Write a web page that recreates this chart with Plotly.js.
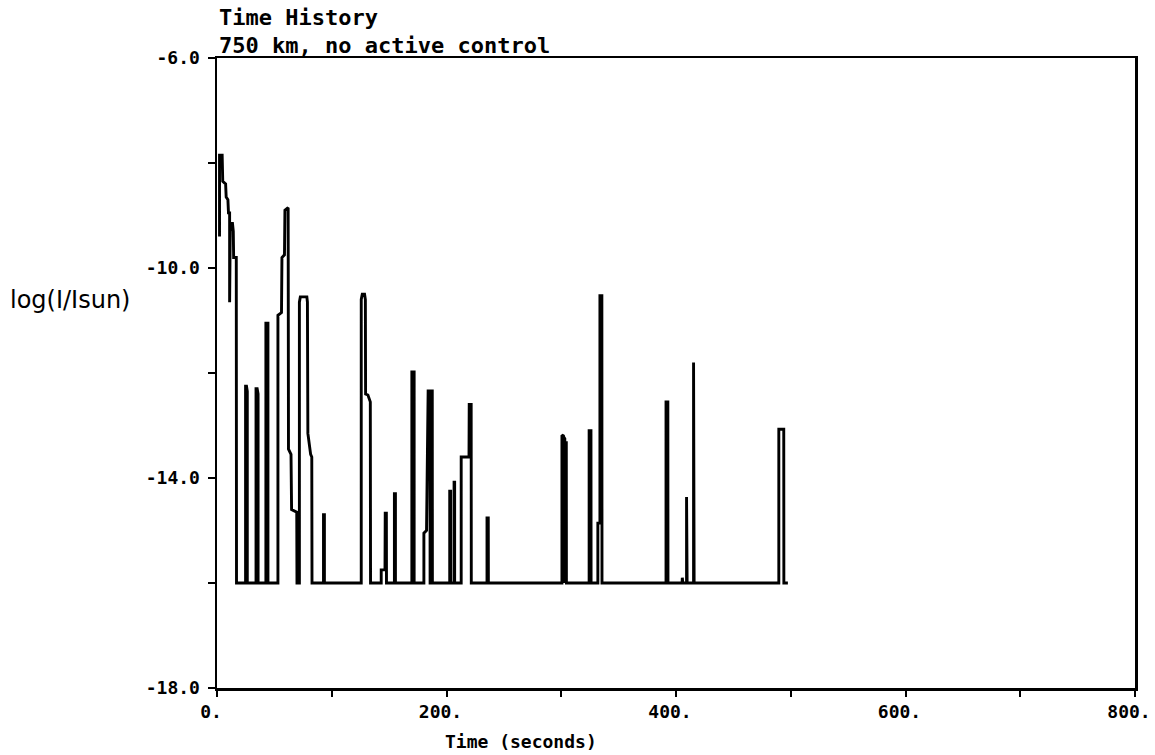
<!DOCTYPE html>
<html>
<head>
<meta charset="utf-8">
<script src="https://cdn.plot.ly/plotly-3.0.1.min.js"></script>
<style>html,body{margin:0;padding:0;background:#fff;}#chart{width:1155px;height:755px;}</style>
</head>
<body>
<div id="chart"></div>
<script>
// Time (seconds)
const timeSec = [
  2.2, 2.2, 4.5, 5.0, 7.5, 8.0, 9.5, 10.0, 11.0, 11.0, 11.6, 11.6, 13.5, 14.2, 14.5, 16.8, 17.0,
  24.9, 24.9, 25.7, 26.4, 26.4,
  34.0, 34.0, 35.0, 35.8, 35.8,
  42.6, 42.6, 44.4, 44.4,
  53.1, 53.1, 56.2, 56.6, 58.8, 59.2, 61.2, 62.0, 62.3, 64.5, 65.0, 69.5, 69.7,
  71.8, 71.8, 72.6, 78.3, 78.8, 79.2, 81.6, 82.6, 82.8,
  92.8, 92.8, 93.6, 93.6,
  125.7, 125.7, 126.6, 128.6, 129.3, 129.5, 131.5, 133.6, 133.8,
  143.1, 143.1, 146.4, 146.6, 147.6, 147.7,
  154.6, 154.6, 155.5, 155.5,
  169.8, 169.8, 171.8, 171.8,
  180.3, 180.3, 182.6, 184.0, 185.6, 185.7, 186.0, 186.1, 187.6, 187.7,
  202.8, 202.8, 203.6, 203.6,
  206.6, 206.6, 207.1, 207.1,
  212.8, 212.8, 219.6, 219.8, 221.5, 221.6,
  235.3, 235.3, 236.4, 236.5,
  300.6, 300.6, 301.9, 302.0, 302.1, 302.2, 303.1, 303.2, 303.3, 304.4, 304.5,
  324.3, 324.3, 325.9, 326.0,
  331.9, 331.9, 333.7, 333.7, 335.4, 335.5,
  391.3, 391.3, 392.9, 393.0,
  405.3, 405.5, 405.9,
  409.2, 409.2, 409.7, 409.7,
  415.3, 415.3, 415.8, 415.8,
  489.6, 489.6, 493.9, 494.0, 497.5
];
// log(I/Isun)
const logIntensity = [
  -9.4, -7.85, -7.85, -8.35, -8.4, -8.65, -8.7, -8.95, -8.95, -10.65, -10.65, -9.15, -9.15, -9.3, -9.8, -9.8, -16,
  -16, -12.25, -12.25, -12.35, -16,
  -16, -12.3, -12.3, -12.4, -16,
  -16, -11.05, -11.05, -16,
  -16, -10.9, -10.85, -9.8, -9.75, -8.9, -8.85, -8.85, -13.45, -13.55, -14.6, -14.65, -16,
  -16, -10.65, -10.55, -10.55, -10.65, -13.15, -13.55, -13.6, -16,
  -16, -14.7, -14.7, -16,
  -16, -10.6, -10.5, -10.5, -10.6, -12.4, -12.42, -12.55, -16,
  -16, -15.75, -15.75, -14.67, -14.67, -16,
  -16, -14.3, -14.3, -16,
  -16, -11.98, -11.98, -16,
  -16, -15.05, -15.0, -12.34, -12.34, -16, -16, -12.34, -12.34, -16,
  -16, -14.25, -14.25, -16,
  -16, -14.08, -14.08, -16,
  -16, -13.6, -13.6, -12.6, -12.6, -16,
  -16, -14.76, -14.76, -16,
  -16, -13.2, -13.18, -16, -16, -13.22, -13.25, -16, -16, -13.3, -16,
  -16, -13.1, -13.1, -16,
  -16, -14.86, -14.86, -10.53, -10.53, -16,
  -16, -12.55, -12.55, -16,
  -16, -15.9, -16,
  -16, -14.36, -14.36, -16,
  -16, -11.8, -11.8, -16,
  -16, -13.07, -13.07, -16, -16
];
const xTickVals = [0, 100, 200, 300, 400, 500, 600, 700, 800];
const xTickText = ['0.', '', '200.', '', '400.', '', '600.', '', '800.'];
const yTickVals = [-18, -16, -14, -12, -10, -8, -6];
const yTickText = ['-18.0', '', '-14.0', '', '-10.0', '', '-6.0'];

const plotFont = 'DejaVu Sans Mono, monospace';

const trace = {
  x: timeSec,
  y: logIntensity,
  type: 'scatter',
  mode: 'lines',
  line: {color: '#000', width: 2.9, shape: 'linear'},
  hoverinfo: 'skip'
};

const layout = {
  width: 1155,
  height: 755,
  autosize: false,
  paper_bgcolor: '#fff',
  plot_bgcolor: '#fff',
  showlegend: false,
  margin: {l: 217, r: 20, t: 58, b: 67, pad: 0},
  xaxis: {
    range: [0, 800],
    tickvals: xTickVals,
    ticktext: xTickText,
    ticks: 'outside',
    ticklen: 6,
    tickwidth: 2,
    tickcolor: '#000',
    showline: true,
    linecolor: '#000',
    linewidth: 2.5,
    mirror: true,
    showgrid: false,
    zeroline: false,
    ticklabelshift: -6,
    ticklabeloverflow: 'allow',
    tickfont: {family: plotFont, size: 18, color: '#000', weight: 'bold'}
  },
  yaxis: {
    range: [-18, -6],
    tickvals: yTickVals,
    ticktext: yTickText,
    ticks: 'outside',
    ticklen: 7,
    tickwidth: 2,
    tickcolor: '#000',
    showline: true,
    linecolor: '#000',
    linewidth: 2.5,
    mirror: true,
    showgrid: false,
    zeroline: false,
    ticklabelstandoff: 4,
    tickfont: {family: plotFont, size: 18, color: '#000', weight: 'bold'}
  },
  annotations: [
    {text: 'Time History', xref: 'paper', yref: 'paper', x: 0, y: 1.065, xanchor: 'left', yanchor: 'middle',
     showarrow: false, font: {family: plotFont, size: 22, color: '#000', weight: 'bold'}},
    {text: '750 km, no active control', xref: 'paper', yref: 'paper', x: 0, y: 1.0206, xanchor: 'left', yanchor: 'middle',
     showarrow: false, font: {family: plotFont, size: 22, color: '#000', weight: 'bold'}},
    {text: 'Time (seconds)', xref: 'paper', yref: 'paper', x: 0.331, y: -0.085, xanchor: 'center', yanchor: 'middle',
     showarrow: false, font: {family: plotFont, size: 18, color: '#000', weight: 'bold'}},
    {text: 'log(I/Isun)', xref: 'paper', yref: 'paper', x: -0.2277, y: 0.616, xanchor: 'left', yanchor: 'middle',
     showarrow: false, font: {family: 'DejaVu Sans, sans-serif', size: 24, color: '#000'}}
  ]
};

Plotly.newPlot('chart', [trace], layout, {displayModeBar: false, staticPlot: true});
</script>
</body>
</html>
